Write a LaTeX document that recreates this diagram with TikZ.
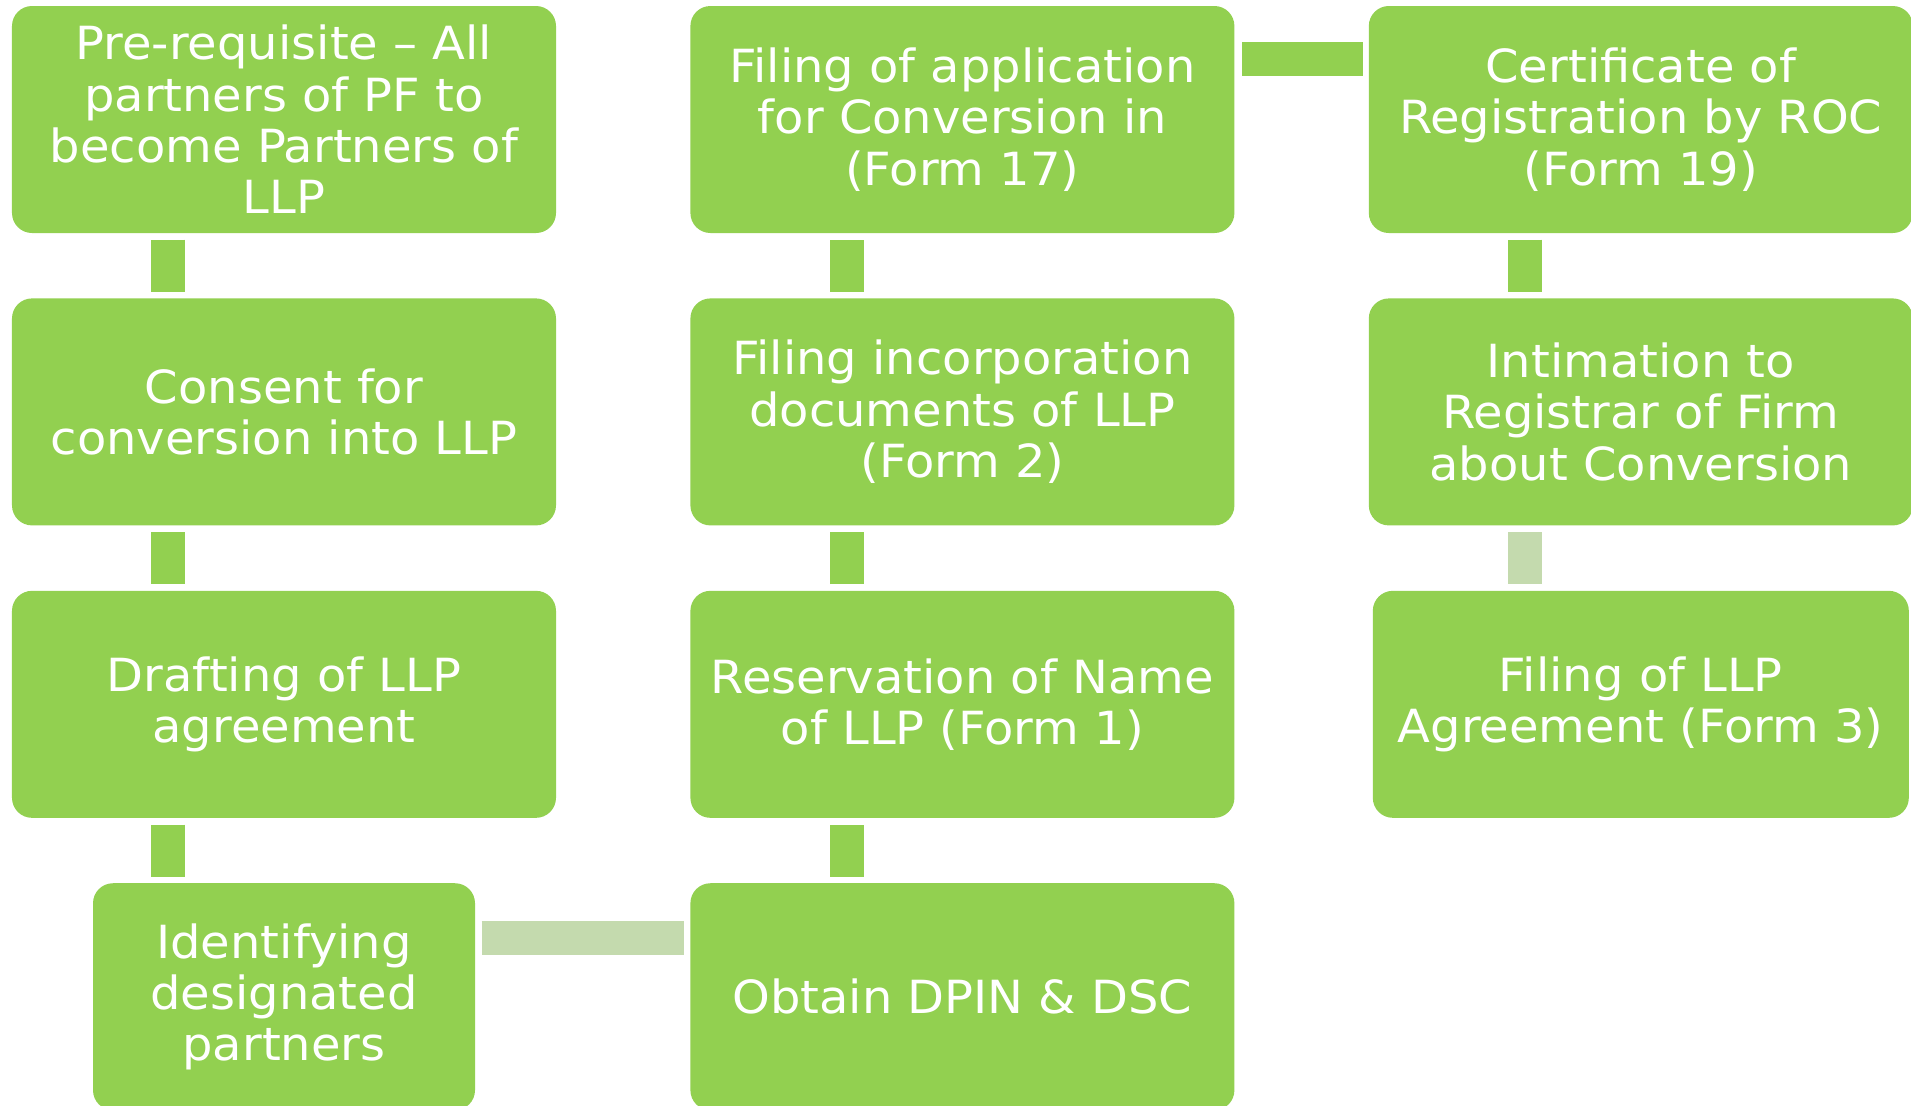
\documentclass[tikz,border=0pt]{standalone}
\usepackage{fontspec}
\setmainfont{DejaVu Sans}[FakeStretch=1.05]
\usepackage{tikz}
\usetikzlibrary{positioning}
\definecolor{leafgreen}{HTML}{92D050}
\definecolor{palegreen}{HTML}{C4DAAE}
\tikzset{stepbox/.style={fill=leafgreen,text=white,rounded corners=0.2cm,minimum width=5.44cm,minimum height=2.27cm,inner sep=2pt,align=center,font=\fontsize{13}{14.6}\selectfont},
  link/.style={draw=leafgreen,line width=0.34cm},
  faintlink/.style={draw=palegreen,line width=0.34cm}}

\begin{document}
\begin{tikzpicture}[node distance=0.64cm and 1.33cm]
		\useasboundingbox (0,0) rectangle (19.11,-11.05);
		\node[stepbox] (pre) at (2.84,-1.195) {Pre-requisite -- All\\partners of PF to\\become Partners of\\LLP};
		\node[stepbox,below=of pre] (consent) {Consent for\\conversion into LLP};
		\node[stepbox,below=of consent] (draft) {Drafting of LLP\\agreement};
		\node[stepbox,below=of draft,minimum width=3.82cm] (ident) {Identifying\\designated\\partners};
		\node[stepbox,right=of pre] (apply) {Filing of application\\for Conversion in\\(Form 17)};
		\node[stepbox,below=of apply] (incorp) {Filing incorporation\\documents of LLP\\(Form 2)};
		\node[stepbox,below=of incorp] (name) {Reservation of Name\\of LLP (Form 1)};
		\node[stepbox,below=of name] (dpin) {Obtain DPIN \& DSC};
		\node[stepbox,right=of apply] (cert) {Certificate of\\Registration by ROC\\(Form 19)};
		\node[stepbox,below=of cert] (intim) {Intimation to\\Registrar of Firm\\about Conversion};
		\node[stepbox,below=of intim,minimum width=5.36cm] (form3) {Filing of LLP\\Agreement (Form 3)};
		\draw[link] ([xshift=-1.16cm,yshift=-0.06cm]pre.south) -- ([xshift=-1.16cm,yshift=0.06cm]consent.north);
		\draw[link] ([xshift=-1.16cm,yshift=-0.06cm]consent.south) -- ([xshift=-1.16cm,yshift=0.06cm]draft.north);
		\draw[link] ([xshift=-1.16cm,yshift=-0.06cm]draft.south) -- ([xshift=-1.16cm,yshift=0.06cm]ident.north);
		\draw[faintlink] ([xshift=0.06cm,yshift=0.585cm]ident.east) -- ([xshift=-0.06cm,yshift=0.585cm]dpin.west);
		\draw[link] ([xshift=-1.155cm,yshift=0.06cm]dpin.north) -- ([xshift=-1.155cm,yshift=-0.06cm]name.south);
		\draw[link] ([xshift=-1.155cm,yshift=0.06cm]name.north) -- ([xshift=-1.155cm,yshift=-0.06cm]incorp.south);
		\draw[link] ([xshift=-1.155cm,yshift=0.06cm]incorp.north) -- ([xshift=-1.155cm,yshift=-0.06cm]apply.south);
		\draw[link] ([xshift=0.07cm,yshift=0.61cm]apply.east) -- ([xshift=-0.05cm,yshift=0.61cm]cert.west);
		\draw[link] ([xshift=-1.155cm,yshift=-0.06cm]cert.south) -- ([xshift=-1.155cm,yshift=0.06cm]intim.north);
		\draw[faintlink] ([xshift=-1.155cm,yshift=-0.06cm]intim.south) -- ([xshift=-1.155cm,yshift=0.06cm]form3.north);
	\end{tikzpicture}
\end{document}
